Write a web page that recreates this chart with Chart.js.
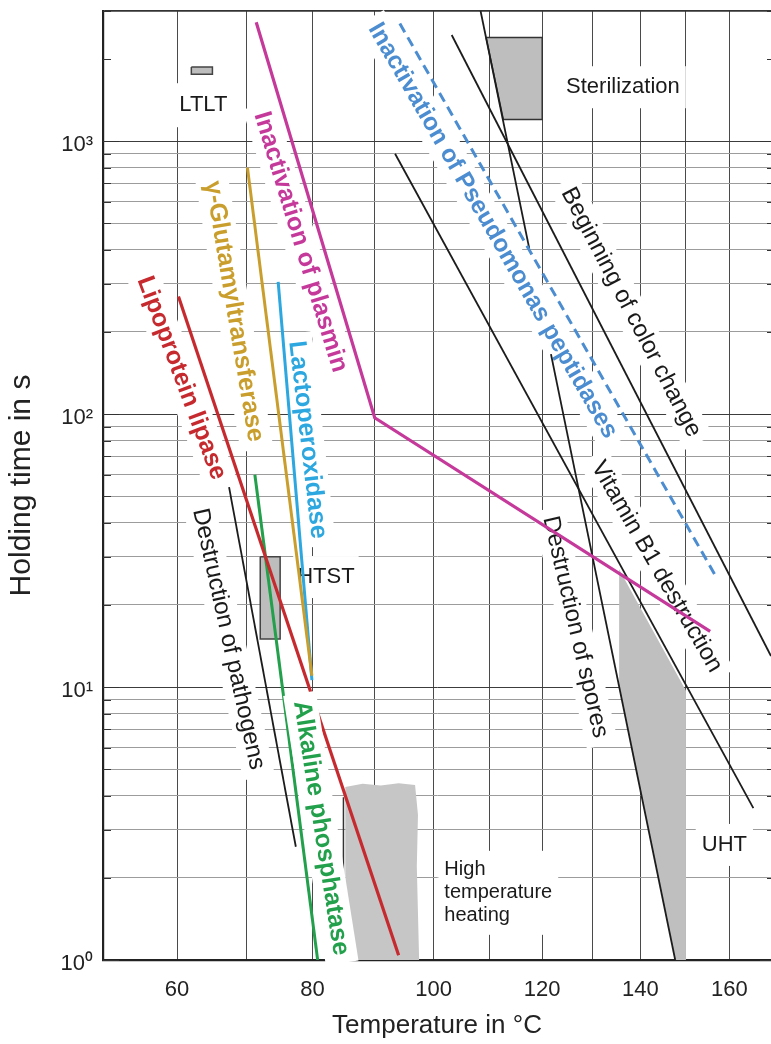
<!DOCTYPE html>
<html><head><meta charset="utf-8">
<script src="https://cdn.jsdelivr.net/npm/chart.js@4.4.1/dist/chart.umd.min.js"></script>
<style>html,body{margin:0;padding:0;background:#fff;overflow:hidden}</style>
</head><body>
<canvas id="c" width="771" height="1044"></canvas>
<script>
// ---------- axes ----------
const TEMP_GRID = [50,60,70,80,90,100,110,120,130,140,150,160,170];
const TEMP_LABELS = [60,80,100,120,140,160];
const TIME_GRID = [1,2,3,4,5,6,7,8,9,10,20,30,40,50,60,70,80,90,100,200,300,400,500,600,700,800,900,1000,2000,3000];
const TIME_DECADES = [1,10,100,1000];
const TIME_LABELS = ['10\u2070','10\u00b9','10\u00b2','10\u00b3'];

// ---------- series: temperature (°C) / holding time (s) ----------
const plasminT = [71.4, 90.0, 155.5];
const plasminS = [2730, 97, 16];
const ggtT = [70.1, 79.9];
const ggtS = [800, 11];
const lpoT = [74.7, 79.9];
const lpoS = [305, 10.6];
const lplT = [60.2, 94.0];
const lplS = [270, 1.04];
const alpT = [71.2, 80.8];
const alpS = [60, 1];
const pathogensT = [67.4, 77.4];
const pathogensS = [54, 2.6];
const pseudoT = [94.2, 157.1];
const pseudoS = [2700, 25];
const colorT = [103.2, 170];
const colorS = [2450, 13];
const vitB1T = [93.4, 165.7];
const vitB1S = [900, 3.6];
const sporesT = [121.7, 147.6];
const sporesS = [166, 1];
const sterLineT = [108.4, 117.5];
const sterLineS = [3000, 405];

// ---------- regions ----------
const ltltT = [62, 65, 65, 62, 62];
const ltltS = [1870, 1870, 1760, 1760, 1870];
const htstT = [72, 75, 75, 72, 72];
const htstS = [30, 30, 15, 15, 30];
const sterT = [109.4, 120, 120, 112.6, 109.4];
const sterS = [2400, 2400, 1200, 1200, 2400];
const uhtT = [135.5, 150, 150, 147.6, 135.5, 135.5];
const uhtS = [27, 9.7, 1, 1, 10, 27];
const hthT = [85.2, 88, 91, 94, 96.8, 97.3, 97.1, 97.5, 85.2, 85.2];
const hthS = [4.3, 4.42, 4.36, 4.44, 4.38, 3.4, 2.2, 1, 1, 4.3];
const hthEdgeT = [84.9, 84.9];
const hthEdgeS = [3.95, 1];

const FONT = '"Liberation Sans", Arial, Helvetica, sans-serif';
const C_PLASMIN = '#C5399B', C_GGT = '#C99E2C', C_LPO = '#2CA7DF', C_LPL = '#C62A2E',
      C_ALP = '#22A04B', C_PSEUDO = '#4B8DD0', C_BLACK = '#1c1c1c';

const LABELS = [
  {text:'LTLT', T:63.7, s:1355, angle:0, size:22, color:'#1a1a1a', padX:5, padY:11},
  {text:'Inactivation of plasmin', T:78.1, s:427, angle:73, size:25, bold:true, color:C_PLASMIN},
  {text:'\u03b3-Glutamyltransferase', T:68.1, s:238, angle:80.5, size:25, bold:true, color:C_GGT},
  {text:'Lipoprotein lipase', T:60.6, s:135.5, angle:69.5, size:25, bold:true, color:C_LPL},
  {text:'Lactoperoxidase', T:79.2, s:80.6, angle:83.5, size:25, bold:true, color:C_LPO},
  {text:'Alkaline phosphatase', T:81.3, s:3.04, angle:81, size:25, bold:true, color:C_ALP, onTop:true},
  {text:'Destruction of pathogens', T:67.3, s:15.0, angle:77.5, size:24, color:'#1a1a1a'},
  {text:'HTST', T:82.1, s:25.3, angle:0, size:22, color:'#1a1a1a', padX:4, padY:10},
  {text:'High\ntemperature\nheating', T:101.9, s:2.14, angle:0, size:20, lineHeight:23, align:'left', color:'#1a1a1a', padX:6, padY:9},
  {text:'Sterilization', T:136.3, s:1577, angle:0, size:22, color:'#1a1a1a', padX:6, padY:10},
  {text:'UHT', T:158.8, s:2.64, angle:0, size:22, color:'#1a1a1a', padX:6, padY:10},
  {text:'Inactivation of Pseudomonas peptidases', T:110.6, s:470, angle:60, size:24.5, bold:true, color:C_PSEUDO},
  {text:'Beginning of color change', T:138.0, s:236, angle:62.5, size:24, color:'#1a1a1a'},
  {text:'Vitamin B1 destruction', T:143.5, s:27.6, angle:60, size:24, color:'#1a1a1a'},
  {text:'Destruction of spores', T:126.5, s:16.6, angle:77, size:24, color:'#1a1a1a'}
];

const invT = T => 1000 / (T + 273.15);
const pts = (T, S) => T.map((t, i) => ({x: invT(t), y: S[i]}));
const line = (T, S, color, width, extra) => Object.assign({
  data: pts(T, S), showLine: true, borderColor: color, borderWidth: width,
  pointRadius: 0, pointHoverRadius: 0, fill: false, tension: 0, order: 2
}, extra || {});
const poly = (T, S, fillColor, stroke, sw) => ({
  data: pts(T, S), showLine: true, borderColor: stroke || 'rgba(0,0,0,0)', borderWidth: sw || 0,
  backgroundColor: fillColor, fill: 'shape', pointRadius: 0, pointHoverRadius: 0, tension: 0, order: 10
});

function drawLabels(chart, onTop) {
  const {ctx, scales: {x, y}} = chart;
  LABELS.forEach(L => {
    if (!!L.onTop !== onTop) return;
    const px = x.getPixelForValue(invT(L.T)), py = y.getPixelForValue(L.s);
    const padX = L.padX != null ? L.padX : 8, padY = L.padY != null ? L.padY : 4;
    ctx.save();
    ctx.font = (L.bold ? 'bold ' : '') + L.size + 'px ' + FONT;
    const lines = L.text.split('\n');
    const lh = L.lineHeight || L.size;
    const w = Math.max(...lines.map(s => ctx.measureText(s).width));
    const h = lh * (lines.length - 1) + L.size;
    ctx.translate(px, py);
    ctx.rotate(L.angle * Math.PI / 180);
    const align = L.align || 'center';
    const bx = align === 'left' ? 0 : -w / 2;
    const by = -L.size / 2;
    ctx.fillStyle = '#fff';
    ctx.fillRect(bx - padX, by - padY, w + 2 * padX, h + 2 * padY);
    ctx.fillStyle = L.color;
    ctx.textAlign = align;
    ctx.textBaseline = 'middle';
    lines.forEach((s, i) => ctx.fillText(s, 0, i * lh));
    ctx.restore();
  });
}

const overlay = {
  id: 'overlay',
  beforeDatasetsDraw(chart) {
    drawLabels(chart, false);
    const {ctx, chartArea: a, scales: {y}} = chart;
    ctx.save();
    ctx.strokeStyle = '#333';
    ctx.lineWidth = 1.2;
    TIME_GRID.forEach(v => {
      const py = Math.round(y.getPixelForValue(v)) + 0.5;
      const major = TIME_DECADES.includes(v);
      ctx.beginPath();
      ctx.moveTo(a.left, py); ctx.lineTo(a.left + (major ? 16 : 8), py);
      ctx.moveTo(a.right, py); ctx.lineTo(a.right - (major ? 11 : 4), py);
      ctx.stroke();
    });
    ctx.restore();
  },
  afterDatasetsDraw(chart) { drawLabels(chart, true); }
};

new Chart(document.getElementById('c'), {
  type: 'scatter',
  data: {
    datasets: [
      line(plasminT, plasminS, C_PLASMIN, 3.2, {order: 1}),
      line(ggtT, ggtS, C_GGT, 3),
      line(lpoT, lpoS, C_LPO, 3),
      line(lplT, lplS, C_LPL, 3.2),
      line(alpT, alpS, C_ALP, 3),
      line(pseudoT, pseudoS, C_PSEUDO, 3, {borderDash: [10, 6]}),
      line(pathogensT, pathogensS, C_BLACK, 1.8, {order: 3}),
      line(colorT, colorS, C_BLACK, 1.8, {order: 3}),
      line(vitB1T, vitB1S, C_BLACK, 1.8, {order: 3}),
      line(sporesT, sporesS, C_BLACK, 1.8, {order: 3}),
      line(sterLineT, sterLineS, C_BLACK, 1.8, {order: 3}),
      line(hthEdgeT, hthEdgeS, '#333', 1.5, {order: 3}),
      poly(ltltT, ltltS, '#bdbdbd', '#444', 1.5),
      poly(htstT, htstS, '#bdbdbd', '#444', 1.5),
      poly(sterT, sterS, '#bebebe', '#333', 1.5),
      poly(uhtT, uhtS, '#bfbfbf'),
      poly(hthT, hthS, '#c6c6c6')
    ]
  },
  options: {
    responsive: false,
    devicePixelRatio: 1,
    animation: false,
    layout: {padding: {top: 11, left: 0, right: 0, bottom: 0}},
    plugins: {legend: {display: false}, tooltip: {enabled: false}},
    events: [],
    scales: {
      x: {
        type: 'linear', reverse: true,
        min: invT(170), max: invT(50),
        afterBuildTicks: s => { s.ticks = TEMP_GRID.map(t => ({value: invT(t)})); },
        afterFit: s => { s.height = 84; s.paddingLeft = 0; s.paddingRight = 0; },
        ticks: {
          autoSkip: false, maxRotation: 0, minRotation: 0, padding: 17,
          color: '#222', font: {family: FONT, size: 22},
          callback: v => { const T = Math.round(1000 / v - 273.15); return TEMP_LABELS.includes(T) ? String(T) : ''; }
        },
        grid: {color: '#4a4a4a', lineWidth: 1, drawTicks: false},
        border: {color: '#222', width: 2.2},
        title: {display: true, text: 'Temperature in \u00b0C', color: '#222',
                font: {family: FONT, size: 26}, padding: {top: 0, bottom: 3}}
      },
      y: {
        type: 'logarithmic', min: 1, max: 3000,
        afterBuildTicks: s => { s.ticks = TIME_GRID.map(v => ({value: v, major: TIME_DECADES.includes(v)})); },
        afterFit: s => { s.width = 103; s.paddingTop = 0; s.paddingBottom = 0; },
        ticks: {
          autoSkip: false, padding: 10, labelOffset: 4,
          color: '#222', font: {family: FONT, size: 22},
          callback: v => { const i = TIME_DECADES.indexOf(v); return i >= 0 ? TIME_LABELS[i] : ''; }
        },
        grid: {
          drawTicks: false,
          color: c => {
            const v = c.tick && c.tick.value;
            if (v === 3000) return '#333';
            if (v > 1000) return 'rgba(0,0,0,0)';
            if (TIME_DECADES.includes(v)) return '#3c3c3c';
            return '#9c9c9c';
          },
          lineWidth: c => (c.tick && c.tick.value === 3000) ? 1.8 : 1
        },
        border: {color: '#222', width: 2.2},
        title: {display: true, text: 'Holding time in s', color: '#222',
                font: {family: FONT, size: 30}, padding: {top: 4, bottom: 0}}
      }
    }
  },
  plugins: [overlay]
});
</script>
</body></html>
